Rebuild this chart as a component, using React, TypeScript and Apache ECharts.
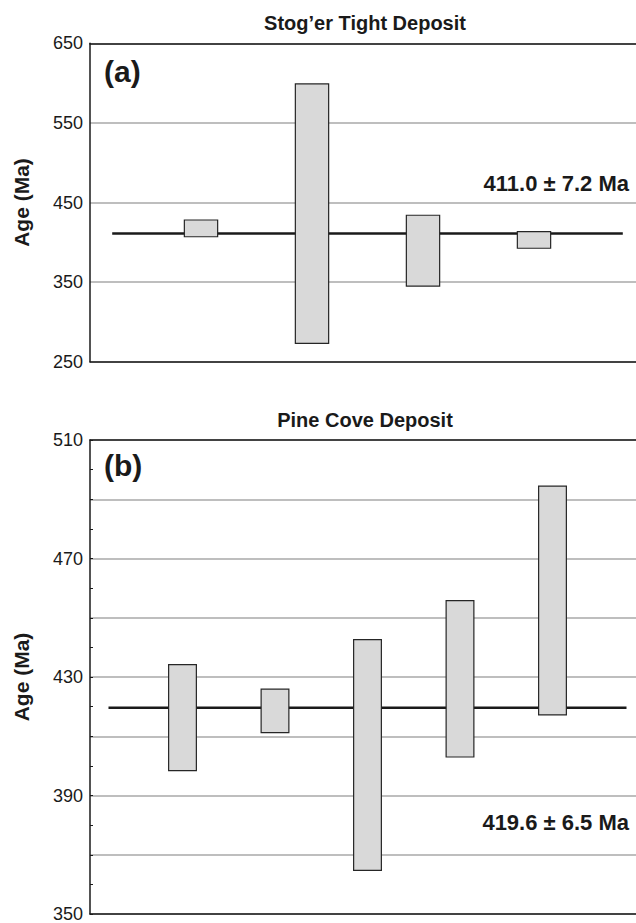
import React, { useEffect, useRef } from "react";
import * as echarts from "echarts";

// Panel (a): Stog'er Tight Deposit
const stogerPositions = [1, 2, 3, 4];
const stogerLow = [407, 273, 345, 392.5];
const stogerHigh = [428, 599, 434, 413.3];
const stogerMean = 411.0;
const stogerLabel = "411.0 ± 7.2 Ma";

// Panel (b): Pine Cove Deposit
const pinePositions = [1, 2, 3, 4, 5];
const pineLow = [398.4, 411.2, 364.7, 403, 417.2];
const pineHigh = [434.2, 425.9, 442.6, 455.8, 494.4];
const pineMean = 419.6;
const pineLabel = "419.6 ± 6.5 Ma";

const FONT = "Liberation Sans, Arial, Helvetica, sans-serif";
const TXT = "#1a1a1a";

function boxSeries(gridIdx: number, pos: number[], low: number[], high: number[]) {
  return {
    type: "custom",
    xAxisIndex: gridIdx * 2,
    yAxisIndex: gridIdx,
    z: 5,
    data: pos.map((p, i) => [p, low[i], high[i]]),
    renderItem: (params: any, api: any) => {
      const x = api.value(0);
      const lo = api.value(1);
      const hi = api.value(2);
      const a = api.coord([x - 0.15, hi]);
      const b = api.coord([x + 0.15, lo]);
      return {
        type: "rect",
        shape: { x: a[0], y: a[1], width: b[0] - a[0], height: b[1] - a[1] },
        style: { fill: "#d9d9d9", stroke: "#262626", lineWidth: 1.2 },
      };
    },
  };
}

export default function App() {
  const ref = useRef<HTMLDivElement>(null);
  useEffect(() => {
    if (!ref.current) return;
    const chart = echarts.init(ref.current, undefined, { renderer: "svg" });
    const yCommon = (min: number, max: number, interval: number, labelStep: number, minor: boolean) => ({
      type: "value",
      min,
      max,
      interval,
      name: "Age (Ma)",
      nameLocation: "middle",
      nameGap: 58,
      nameTextStyle: { fontFamily: FONT, fontWeight: "bold", fontSize: 21, color: TXT },
      axisLine: { show: true, lineStyle: { color: "#1a1a1a", width: 1.5 } },
      axisTick: { show: minor, inside: true, length: 3, lineStyle: { color: "#1a1a1a" } },
      minorTick: { show: minor, splitNumber: 2, length: 3, lineStyle: { color: "#1a1a1a" } },
      axisLabel: {
        fontFamily: FONT,
        fontSize: 18,
        color: TXT,
        margin: 7,
        formatter: (v: number) => (Math.round(v - min) % labelStep === 0 ? String(v) : ""),
      },
      splitLine: { show: true, lineStyle: { color: "#a8a8a8", width: 1.5 } },
    });
    const xCommon = (max: number, gridIndex: number, position: string) => ({
      type: "value",
      gridIndex,
      position,
      min: 0,
      max,
      axisLine: { show: true, onZero: false, lineStyle: { color: "#1a1a1a", width: 1.5 } },
      axisTick: { show: false },
      axisLabel: { show: false },
      splitLine: { show: false },
    });
    chart.setOption({
      animation: false,
      grid: [
        { left: 90, top: 43.3, height: 318.4, right: 55 },
        { left: 90, top: 440, height: 475, right: 55 },
      ],
      xAxis: [xCommon(5, 0, "bottom"), xCommon(5, 0, "top"), xCommon(6, 1, "bottom"), xCommon(6, 1, "top")],
      yAxis: [
        { ...yCommon(250, 650, 100, 100, false), gridIndex: 0 },
        { ...yCommon(350, 510, 20, 40, true), gridIndex: 1 },
      ],
      series: [
        {
          type: "line",
          xAxisIndex: 0,
          yAxisIndex: 0,
          z: 3,
          symbol: "none",
          data: [[0.2, stogerMean], [4.8, stogerMean]],
          lineStyle: { color: "#1a1a1a", width: 2.5 },
        },
        boxSeries(0, stogerPositions, stogerLow, stogerHigh),
        {
          type: "line",
          xAxisIndex: 2,
          yAxisIndex: 1,
          z: 3,
          symbol: "none",
          data: [[0.2, pineMean], [5.8, pineMean]],
          lineStyle: { color: "#1a1a1a", width: 2.5 },
        },
        boxSeries(1, pinePositions, pineLow, pineHigh),
      ],
      graphic: [
        { type: "text", x: 365, y: 23, style: { text: "Stog’er Tight Deposit", font: `bold 20px ${FONT}`, fill: TXT, textAlign: "center", textVerticalAlign: "middle" } },
        { type: "text", x: 365, y: 420, style: { text: "Pine Cove Deposit", font: `bold 20px ${FONT}`, fill: TXT, textAlign: "center", textVerticalAlign: "middle" } },
        { type: "text", x: 104, y: 71, style: { text: "(a)", font: `bold 30px ${FONT}`, fill: TXT, textAlign: "left", textVerticalAlign: "middle" } },
        { type: "text", x: 104, y: 465, style: { text: "(b)", font: `bold 30px ${FONT}`, fill: TXT, textAlign: "left", textVerticalAlign: "middle" } },
        { type: "text", x: 629, y: 183, style: { text: stogerLabel, font: `bold 22px ${FONT}`, fill: TXT, textAlign: "right", textVerticalAlign: "middle" } },
        { type: "text", x: 629, y: 822, style: { text: pineLabel, font: `bold 22px ${FONT}`, fill: TXT, textAlign: "right", textVerticalAlign: "middle" } },
      ],
    });
    return () => chart.dispose();
  }, []);
  return (
    <div style={{ position: "absolute", left: 0, top: 0, width: 636, height: 923, overflow: "hidden", background: "#fff" }}>
      <div ref={ref} style={{ width: 700, height: 923 }} />
    </div>
  );
}
